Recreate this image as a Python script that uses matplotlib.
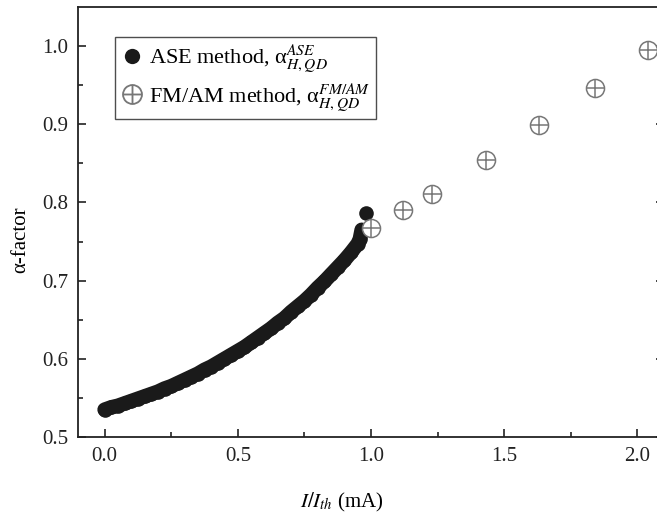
import numpy as np
import matplotlib
matplotlib.use("Agg")
import matplotlib.pyplot as plt
from matplotlib.lines import Line2D

plt.rcParams['font.family'] = ['Liberation Serif', 'DejaVu Serif']
plt.rcParams['mathtext.fontset'] = 'stix'

# alpha-factor from the ASE method (below threshold)
ase_current = [0.000, 0.025, 0.050, 0.075, 0.100, 0.125, 0.150, 0.175, 0.200, 0.225,
               0.250, 0.275, 0.300, 0.325, 0.350, 0.375, 0.400, 0.425, 0.450, 0.475,
               0.500, 0.525, 0.550, 0.575, 0.600, 0.625, 0.650, 0.675, 0.700, 0.725,
               0.750, 0.775, 0.800, 0.825, 0.850, 0.875, 0.900, 0.925, 0.950, 0.958,
               0.965, 0.981]
ase_alpha = [0.535, 0.538, 0.540, 0.543, 0.546, 0.549, 0.552, 0.555, 0.558, 0.562,
             0.565, 0.569, 0.573, 0.577, 0.581, 0.586, 0.590, 0.595, 0.600, 0.605,
             0.610, 0.615, 0.621, 0.627, 0.633, 0.639, 0.646, 0.652, 0.660, 0.667,
             0.674, 0.682, 0.691, 0.699, 0.708, 0.717, 0.726, 0.736, 0.747, 0.753,
             0.765, 0.787]

# alpha-factor from the FM/AM method (above threshold)
fmam_current = [1.00, 1.12, 1.23, 1.43, 1.63, 1.84, 2.04]
fmam_alpha = [0.767, 0.790, 0.811, 0.854, 0.899, 0.947, 0.995]

fig = plt.figure(figsize=(6.57, 5.17), dpi=100)
ax = fig.add_axes([0.1187, 0.1547, 0.892, 0.8318])

# dense ASE points merge into one thick band
ax.plot(ase_current[:-1], ase_alpha[:-1], '-', color='#1a1a1a', linewidth=10.5,
        solid_capstyle='round', solid_joinstyle='round', zorder=3)
ax.plot(ase_current, ase_alpha, 'o', color='#1a1a1a', markersize=10.5,
        markeredgewidth=0, zorder=3)
ax.plot(fmam_current, fmam_alpha, 'o', markersize=13, markerfacecolor='white',
        markeredgecolor='#777777', markeredgewidth=1.1, zorder=4)
ax.plot(fmam_current, fmam_alpha, '+', markersize=13, color='#777777',
        markeredgewidth=1.1, zorder=5)

ax.set_xlim(-0.1, 2.1)
ax.set_ylim(0.5, 1.05)
ax.set_xticks([0.0, 0.5, 1.0, 1.5, 2.0])
ax.set_xticks([0.25, 0.75, 1.25, 1.75], minor=True)
ax.set_yticks([0.5, 0.6, 0.7, 0.8, 0.9, 1.0])
ax.set_yticks([0.55, 0.65, 0.75, 0.85, 0.95], minor=True)
ax.xaxis.set_major_formatter(matplotlib.ticker.FormatStrFormatter('%.1f'))
ax.yaxis.set_major_formatter(matplotlib.ticker.FormatStrFormatter('%.1f'))

ax.tick_params(which='both', direction='in', right=True, top=False,
               labelsize=15, colors='#222222', width=1.2)
ax.tick_params(which='major', length=6, pad=7)
ax.tick_params(which='minor', length=3.5)
for s in ax.spines.values():
    s.set_linewidth(1.3)
    s.set_color('#222222')

ax.set_xlabel('$I/I_{th}$ (mA)', fontsize=15)
ax.set_ylabel('α-factor', fontsize=15)
ax.xaxis.set_label_coords(0.45, -0.125)
ax.yaxis.set_label_coords(-0.082, 0.458)

handles = [
    Line2D([], [], marker='o', linestyle='none', color='#1a1a1a',
           markersize=11, markeredgewidth=0),
    Line2D([], [], marker='$\\oplus$', linestyle='none', color='#777777',
           markersize=15, markeredgewidth=0),
]
labels = ['ASE method, α$_{H,QD}^{ASE}$', 'FM/AM method, α$_{H,QD}^{FM/AM}$']
leg = ax.legend(handles, labels, loc='upper left', bbox_to_anchor=(0.063, 0.930),
                borderaxespad=0, fontsize=16, frameon=True, fancybox=False,
                handletextpad=0.3, handlelength=1.0, borderpad=0.25,
                labelspacing=0.25)
leg.get_frame().set_edgecolor('#222222')
leg.get_frame().set_linewidth(1.0)

fig.savefig('out.png', dpi=100)
